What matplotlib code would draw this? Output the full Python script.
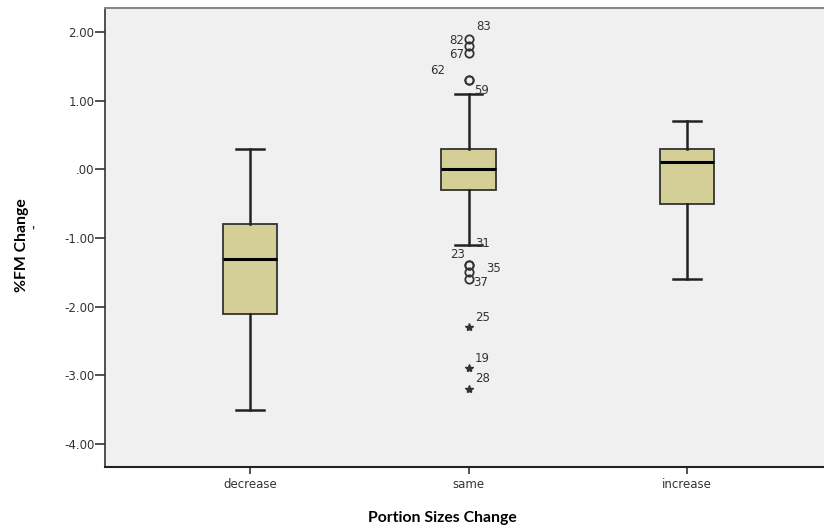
import numpy as np
import matplotlib.pyplot as plt
from matplotlib.ticker import MultipleLocator

groups = ['decrease', 'same', 'increase']
whis_lo = [-3.5, -1.1, -1.6]
q1 = [-2.1, -0.3, -0.5]
med = [-1.3, 0.0, 0.1]
q3 = [-0.8, 0.3, 0.3]
whis_hi = [0.3, 1.1, 0.7]

# outliers in the "same" group (circles) and extremes (stars)
out_ids = ['83', '82', '67', '62', '59', '31', '23', '35', '37']
out_vals = [1.9, 1.8, 1.7, 1.3, 1.3, -1.4, -1.4, -1.5, -1.6]
ext_ids = ['25', '19', '28']
ext_vals = [-2.3, -2.9, -3.2]

# label offsets in pixels
offs = {'83': (15, 12), '82': (-12, 5), '67': (-12, -2), '62': (-31, 10),
        '59': (13, -10), '31': (14, 22), '23': (-11, 11), '35': (25, 4),
        '37': (12, -3), '25': (14, 10), '19': (14, 10), '28': (14, 11)}

plt.rcParams['font.family'] = ['DejaVu Sans']

fig = plt.figure(figsize=(8.24, 5.29), dpi=100)
ax = fig.add_axes([105/824, 62/529, 1 - 105/824, 459/529])
ax.set_facecolor('#f0f0f0')

stats = []
for i in range(len(groups)):
    stats.append({'med': med[i], 'q1': q1[i], 'q3': q3[i],
                  'whislo': whis_lo[i], 'whishi': whis_hi[i], 'fliers': []})

ax.bxp(stats, positions=[1, 2, 3], widths=0.25, patch_artist=True,
       showfliers=False,
       boxprops=dict(facecolor='#d3cf97', edgecolor='#333333', linewidth=1.3),
       medianprops=dict(color='black', linewidth=2.2),
       whiskerprops=dict(color='#222222', linewidth=1.8),
       capprops=dict(color='#222222', linewidth=1.8),
       capwidths=0.125)

ax.plot([2]*len(out_vals), out_vals, linestyle='none', marker='o',
        markersize=6, markerfacecolor='none', markeredgecolor='#333333',
        markeredgewidth=1.3)
ax.plot([2]*len(ext_vals), ext_vals, linestyle='none', marker='*',
        markersize=6, color='#333333')

for ids, vals in [(out_ids, out_vals), (ext_ids, ext_vals)]:
    for k, v in zip(ids, vals):
        ax.annotate(k, (2, v), xytext=offs[k], textcoords='offset pixels',
                    ha='center', va='center', fontsize=8.5, color='#333333')

ax.set_xlim(0.336, 3.627)
ax.set_ylim(-4.335, 2.349)
ax.set_xticks([1, 2, 3])
ax.set_xticklabels(groups)
ax.yaxis.set_major_locator(MultipleLocator(1))

def fmt(v, pos):
    s = '%.2f' % v
    if s.startswith('0'):
        s = s[1:]
    return s
ax.yaxis.set_major_formatter(plt.FuncFormatter(fmt))

ax.tick_params(axis='both', direction='out', width=1.2,
               color='#333333', labelsize=8.5, labelcolor='#333333')
ax.tick_params(axis='y', length=7, pad=0.5)
ax.tick_params(axis='x', length=5, pad=3)

ax.spines['right'].set_visible(False)
ax.spines['top'].set_color('#888888')
ax.spines['top'].set_linewidth(1.5)
ax.spines['left'].set_color('#333333')
ax.spines['bottom'].set_color('#222222')
ax.spines['left'].set_linewidth(1.2)
ax.spines['bottom'].set_linewidth(1.5)

fig.text(22/824, 1 - 245/529, '%FM Change', rotation=90, ha='center',
         va='center', fontsize=11.3, fontweight='bold', family=['Lato', 'DejaVu Sans'])
fig.text(34/824, 1 - 227/529, '-', rotation=90, ha='center',
         va='center', fontsize=8, fontweight='bold', color='#333333')
fig.text(442/824, 1 - 518/529, 'Portion Sizes Change', ha='center',
         va='center', fontsize=11.3, fontweight='bold', family=['Lato', 'DejaVu Sans'])

fig.savefig('out.png', dpi=100)
